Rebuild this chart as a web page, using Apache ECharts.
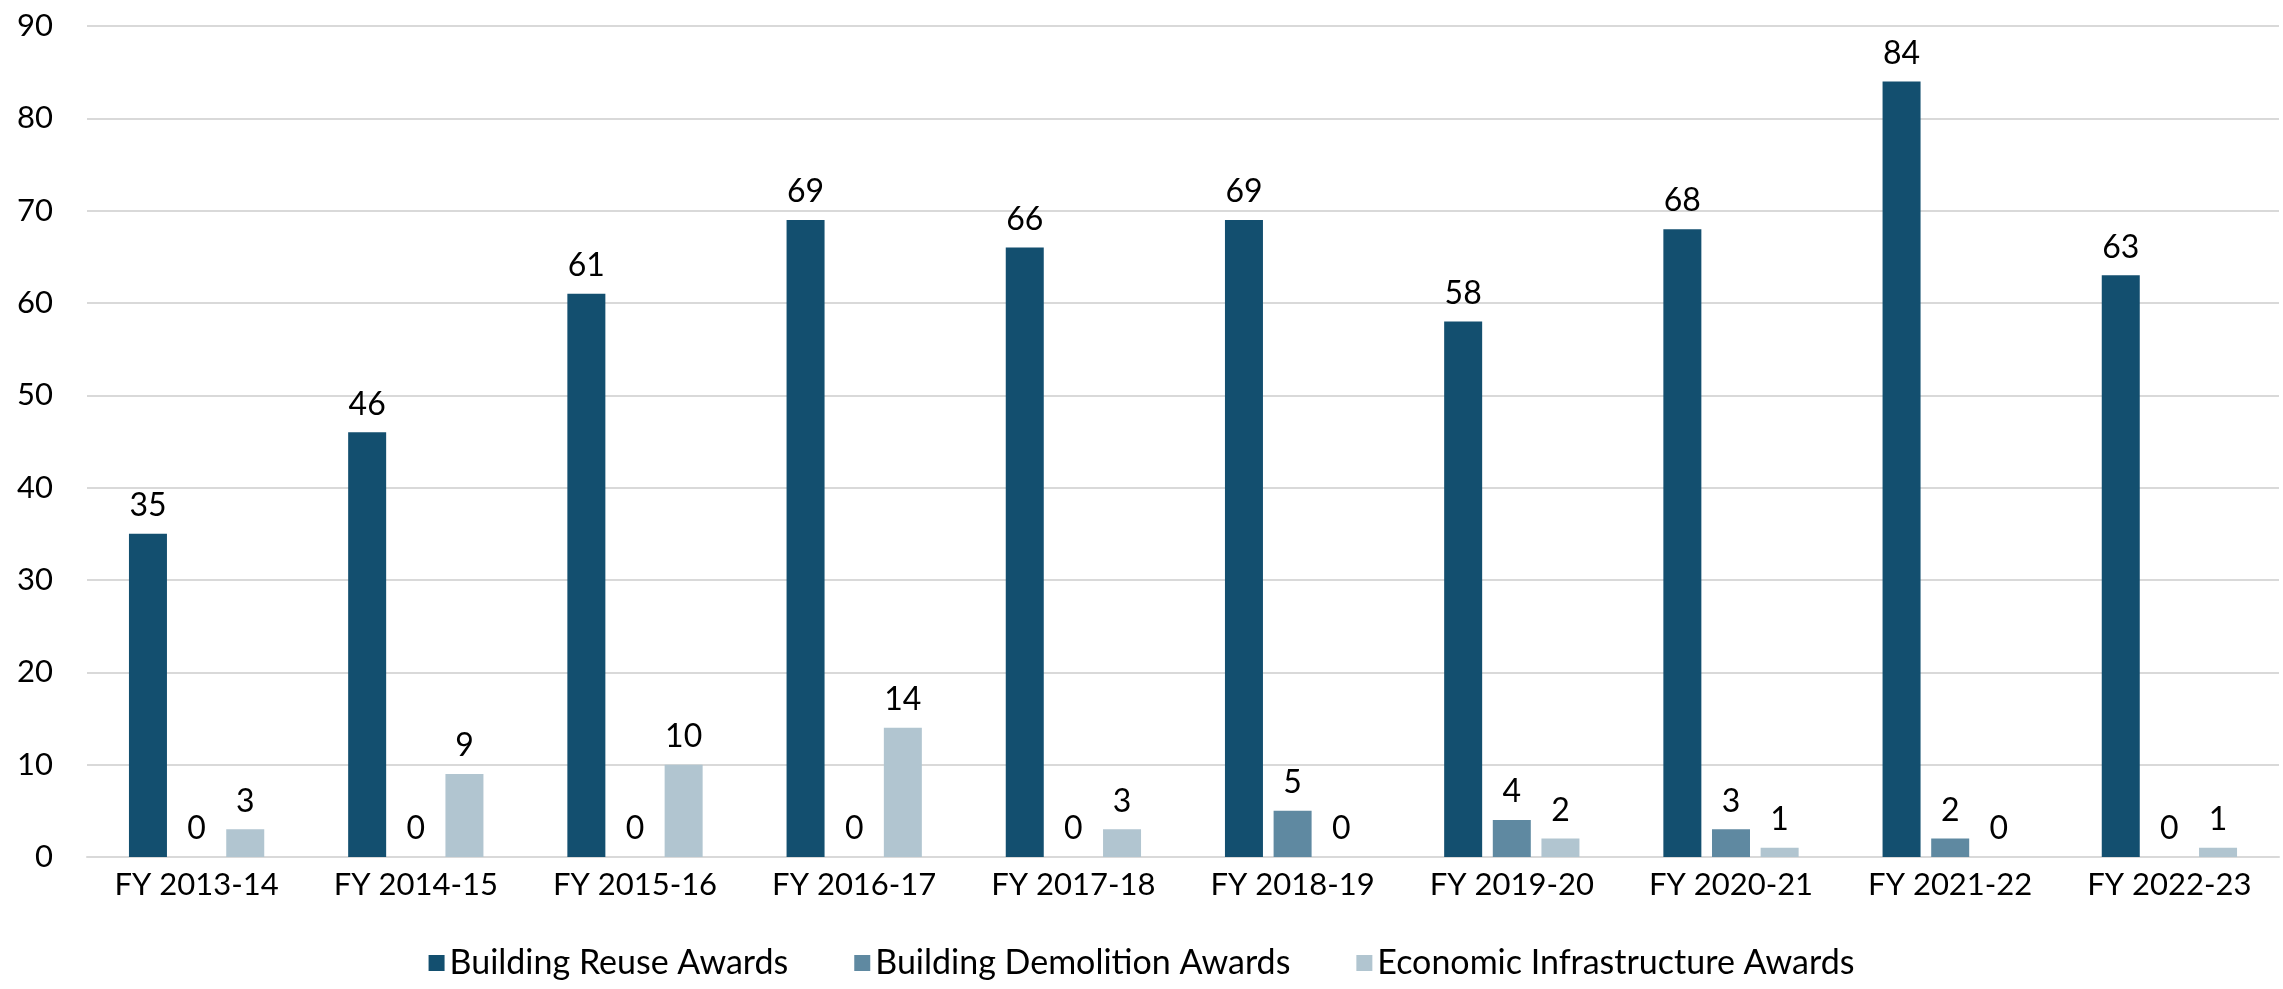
<!DOCTYPE html>
<html>
<head>
<meta charset="utf-8">
<script src="https://cdn.jsdelivr.net/npm/echarts@6/dist/echarts.min.js"></script>
<style>
  html, body { margin: 0; padding: 0; background: #fff; }
  #chart { width: 2283px; height: 989px; }
</style>
</head>
<body>
<div id="chart"></div>
<script>
// fiscal years
const categories = ['FY 2013-14', 'FY 2014-15', 'FY 2015-16', 'FY 2016-17', 'FY 2017-18',
  'FY 2018-19', 'FY 2019-20', 'FY 2020-21', 'FY 2021-22', 'FY 2022-23'];
const reuseAwards = [35, 46, 61, 69, 66, 69, 58, 68, 84, 63];
const demolitionAwards = [0, 0, 0, 0, 0, 5, 4, 3, 2, 0];
const infrastructureAwards = [3, 9, 10, 14, 3, 0, 2, 1, 0, 1];
const seriesNames = ['Building Reuse Awards', 'Building Demolition Awards', 'Economic Infrastructure Awards'];
const colors = ['#134f6f', '#5f89a1', '#b1c5d0'];

const FONT = 'Lato';
const chart = echarts.init(document.getElementById('chart'));

const makeSeries = (name, data, color) => ({
  name: name,
  type: 'bar',
  data: data,
  barWidth: 38,
  barGap: '28%',
  itemStyle: { color: color },
  label: {
    show: true,
    position: 'top',
    distance: 12,
    color: '#000',
    fontFamily: FONT,
    fontSize: 32
  }
});

const option = {
  animation: false,
  color: colors,
  grid: { left: 87, right: 4, top: 26, bottom: 132 },
  legend: {
    bottom: 4,
    left: 'center',
    itemWidth: 16,
    itemHeight: 16,
    itemGap: 66,
    icon: 'rect',
    textStyle: { fontFamily: FONT, fontSize: 34, color: '#000' },
    data: seriesNames
  },
  xAxis: {
    type: 'category',
    data: categories,
    axisLine: { lineStyle: { color: '#d9d9d9', width: 2 } },
    axisTick: { show: false },
    axisLabel: { color: '#000', fontFamily: FONT, fontSize: 31, margin: 12 }
  },
  yAxis: {
    type: 'value',
    min: 0,
    max: 90,
    interval: 10,
    axisLine: { show: false },
    axisTick: { show: false },
    splitLine: { lineStyle: { color: '#d9d9d9', width: 2 } },
    axisLabel: { color: '#000', fontFamily: FONT, fontSize: 31, margin: 34 }
  },
  series: [
    makeSeries(seriesNames[0], reuseAwards, colors[0]),
    makeSeries(seriesNames[1], demolitionAwards, colors[1]),
    makeSeries(seriesNames[2], infrastructureAwards, colors[2])
  ]
};
chart.setOption(option);
</script>
</body>
</html>
